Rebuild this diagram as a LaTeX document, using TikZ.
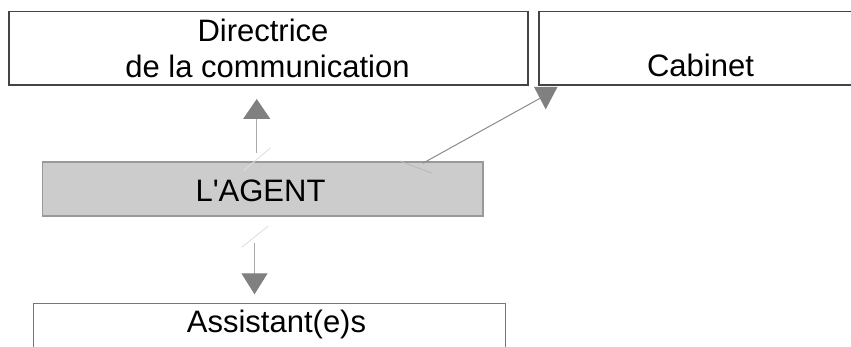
\documentclass[tikz,border=0pt]{standalone}
\usepackage{fontspec}
\setmainfont[Ligatures=TeXOff]{Liberation Sans}
\usetikzlibrary{arrows.meta}
\definecolor{boxline}{HTML}{444444}
\definecolor{agentfill}{HTML}{CCCCCC}
\definecolor{agentline}{HTML}{999999}
\definecolor{headgray}{HTML}{808080}
\definecolor{linegray}{HTML}{AAAAAA}
\definecolor{diaggray}{HTML}{8C8C8C}
\definecolor{tickgray}{HTML}{DDDDDD}
\definecolor{asstline}{HTML}{777777}
\begin{document}
\begin{tikzpicture}[x=1pt,y=-1pt,
  box/.style={draw=boxline,line width=1.2pt,fill=white,inner sep=0pt,outer sep=0pt},
  lbl/.style={anchor=base,inner sep=0pt,font=\fontsize{31}{36}\selectfont},
  conn/.style={draw=linegray,line width=1.2pt},
  tick/.style={draw=tickgray,line width=0.8pt}]
\useasboundingbox (0,0) rectangle (851,347);
\fill[white] (0,0) rectangle (851,347);
% boxes
\node[box,minimum width=519pt,minimum height=73.3pt] (dir) at (268.5,48.3) {};
\node[box,minimum width=323pt,minimum height=73.3pt] (cab) at (700.5,48.3) {};
\node[box,draw=agentline,fill=agentfill,minimum width=440.7pt,minimum height=54pt] (agent) at (262.65,189) {};
\node[box,draw=asstline,minimum width=472.4pt,minimum height=76.6pt] (asst) at (269.5,341.6) {};
% texts
\node[lbl] (dirt1) at (263,41.7) {Directrice};
\node[lbl] (dirt2) at (267.5,78) {de la communication};
\node[lbl] (cabt) at (700.5,77) {Cabinet};
\node[lbl] (agentt) at (260.5,201.7) {L'AGENT};
\node[lbl] (asstt) at (276.5,332.7) {Assistant(e)s};
% connector coordinates
\coordinate (upS) at (256.7,153);
\coordinate (upE) at (256.7,99);
\coordinate (dnS) at (254.5,243.3);
\coordinate (dnE) at (254.5,294.3);
\coordinate (dgS) at (422.7,163.3);
\coordinate (dgE) at (540,98.3);
\coordinate (hA) at (534,87);
\coordinate (hB) at (557.5,87);
\coordinate (hC) at (545.7,109.3);
\coordinate (t1a) at (243.3,171);
\coordinate (t1b) at (270.7,147.7);
\coordinate (t2a) at (241.7,247.3);
\coordinate (t2b) at (268.3,226);
\coordinate (t3a) at (400,161);
\coordinate (t3b) at (432.3,173.3);
% connectors
\draw[conn,-{Triangle[width=27pt,length=20pt,color=headgray]}] (upS) -- (upE);
\draw[conn,-{Triangle[width=26pt,length=21pt,color=headgray]}] (dnS) -- (dnE);
\draw[draw=diaggray,line width=1pt] (dgS) -- (dgE);
\fill[headgray] (hA) -- (hB) -- (hC) -- cycle;
\draw[tick] (t1a) -- (t1b);
\draw[tick] (t2a) -- (t2b);
\draw[tick,draw=agentline!70] (t3a) -- (t3b);
\end{tikzpicture}
\end{document}
